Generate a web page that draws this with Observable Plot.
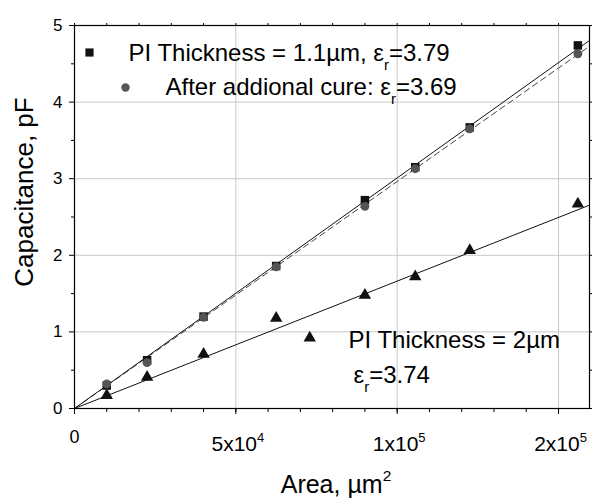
<!DOCTYPE html>
<html><head><meta charset="utf-8">
<script src="https://cdn.jsdelivr.net/npm/d3@7"></script>
<script src="https://cdn.jsdelivr.net/npm/@observablehq/plot@0.6"></script>
<style>
body{margin:0;background:#fff;}
#chart{width:592px;height:499px;overflow:hidden;}
</style></head><body><div id="chart"></div>
<script>
// Data (area in µm², capacitance in pF)
const area11 = [1.0e4, 2.25e4, 4.0e4, 6.25e4, 9.0e4, 10.56e4, 12.25e4, 15.6e4];
const cap11 = [0.30, 0.63, 1.20, 1.86, 2.72, 3.15, 3.67, 4.74];
const capCured = [0.32, 0.60, 1.19, 1.85, 2.64, 3.13, 3.65, 4.63];
const area2 = [1.0e4, 2.25e4, 4.0e4, 6.25e4, 7.29e4, 9.0e4, 10.56e4, 12.25e4, 15.6e4];
const cap2 = [0.17, 0.41, 0.71, 1.18, 0.92, 1.48, 1.72, 2.065, 2.67];

const xTickValues = [0, 5e4, 1e5, 1.5e5];
const xTickLabels = ["0", "5x10^{4}", "1x10^{5}", "2x10^{5}"];
const xMinorTicks = d3.range(0, 159000, 1e4);
const yTickValues = [0, 1, 2, 3, 4, 5];
const yMinorTicks = [0.5, 1.5, 2.5, 3.5, 4.5];
const xGrid = [5e4, 1e5, 1.5e5];
const yGrid = [1, 2, 3, 4];
const legendLabels = ["PI Thickness = 1.1µm, ε_{r}=3.79", "After addional cure: ε_{r}=3.69"];
const noteLabels = ["PI Thickness = 2µm", "ε_{r}=3.74"];
const xTitle = "Area, µm^{2}";
const yTitle = "Capacitance, pF";

const xMax = 159600;
// least-squares fits through the origin, computed from the data
function fit(xs, ys) {
  const k = d3.sum(xs, (x, i) => x * ys[i]) / d3.sum(xs, x => x * x);
  return [0, xMax].map(x => ({x, y: k * x}));
}
const pts11 = area11.map((x, i) => ({x, y: cap11[i]}));
const ptsCured = area11.map((x, i) => ({x, y: capCured[i]}));
const pts2 = area2.map((x, i) => ({x, y: cap2[i]}));
const xLab = xTickValues.map((v, i) => ({v, t: xTickLabels[i]}));

const font = "'Liberation Sans', Arial, sans-serif";
const big = {fontSize: 24};
const plot = Plot.plot({
  width: 592, height: 499,
  marginLeft: 74, marginRight: 3, marginTop: 25, marginBottom: 91,
  x: {domain: [0, xMax]},
  y: {domain: [0, 5]},
  style: {fontFamily: font, fontSize: "16px", background: "white", color: "black"},
  marks: [
    Plot.ruleX(xGrid, {stroke: "#c8c8c8", strokeWidth: 1}),
    Plot.ruleY(yGrid, {stroke: "#c8c8c8", strokeWidth: 1}),
    Plot.line(fit(area2, cap2), {x: "x", y: "y", stroke: "#111", strokeWidth: 1, clip: true}),
    Plot.line(fit(area11, capCured), {x: "x", y: "y", stroke: "#444", strokeWidth: 1, strokeDasharray: "6,4", clip: true}),
    Plot.line(fit(area11, cap11), {x: "x", y: "y", stroke: "#111", strokeWidth: 1, clip: true}),
    Plot.dot(pts2, {x: "x", y: "y", symbol: "triangle", r: 4.6, fill: "#111", stroke: "none"}),
    Plot.dot(pts11, {x: "x", y: "y", symbol: "square", r: 4.8, fill: "#111", stroke: "none"}),
    Plot.dot(ptsCured, {x: "x", y: "y", symbol: "circle", r: 4.4, fill: "#555", stroke: "none"}),
    Plot.frame({stroke: "black", strokeWidth: 1.2}),
    Plot.axisX(xTickValues, {tickSize: 6, fill: "none", label: null}),
    Plot.axisX(xMinorTicks, {tickSize: 4, fill: "none", label: null}),
    Plot.axisX(xMinorTicks, {anchor: "top", tickSize: 3, fill: "none", label: null}),
    Plot.axisY(yTickValues, {tickSize: 5, tickPadding: 7, fontSize: 17, tickFormat: d => String(d), label: null}),
    Plot.axisY(yMinorTicks, {tickSize: 3, fill: "none", label: null}),
    Plot.axisY(yTickValues, {anchor: "right", tickSize: 3, fill: "none", label: null}),
    Plot.axisY(yMinorTicks, {anchor: "right", tickSize: 2, fill: "none", label: null}),
    Plot.text(xLab.slice(0, 1), {x: "v", y: () => 0, text: "t", dy: 29, fontSize: 18, lineAnchor: "middle"}),
    Plot.text(xLab.slice(1), {x: "v", y: () => 0, text: "t", dy: 36, dx: 2, fontSize: 21, lineAnchor: "middle"}),
    // legend
    Plot.dot([0], {frameAnchor: "top-left", dx: 15, dy: 27, symbol: "square", r: 4.6, fill: "#111"}),
    Plot.dot([0], {frameAnchor: "top-left", dx: 51, dy: 62, symbol: "circle", r: 4.2, fill: "#555"}),
    Plot.text([legendLabels[0]], {frameAnchor: "top-left", dx: 54, dy: 28, text: d => d, textAnchor: "start", lineAnchor: "middle", ...big}),
    Plot.text([legendLabels[1]], {frameAnchor: "top-left", dx: 91, dy: 62, text: d => d, textAnchor: "start", lineAnchor: "middle", ...big}),
    // annotation for 2 µm series
    Plot.text([noteLabels[0]], {frameAnchor: "bottom-left", dx: 274, dy: -68, text: d => d, textAnchor: "start", lineAnchor: "middle", ...big}),
    Plot.text([noteLabels[1]], {frameAnchor: "bottom-left", dx: 279, dy: -33, text: d => d, textAnchor: "start", lineAnchor: "middle", ...big}),
    // axis titles
    Plot.text([xTitle], {frameAnchor: "bottom", dx: 4, dy: 76, text: d => d, textAnchor: "middle", lineAnchor: "middle", fontSize: 25}),
    Plot.text([yTitle], {frameAnchor: "left", dx: -50, dy: -25, rotate: -90, text: d => d, textAnchor: "middle", lineAnchor: "middle", fontSize: 26})
  ]
});
document.getElementById("chart").appendChild(plot);

// turn ^{..} / _{..} markup into real superscript / subscript tspans
d3.select(plot).selectAll("text").each(function () {
  const el = this;
  const raw = el.textContent;
  if (!/[\^_]\{/.test(raw)) return;
  const g = el.closest("[font-size]");
  const fs = (g && parseFloat(g.getAttribute("font-size"))) || parseFloat(getComputedStyle(el).fontSize) || 16;
  el.setAttribute("font-size", fs);
  while (el.firstChild) el.removeChild(el.firstChild);
  const re = /(\^|_)\{([^}]*)\}/g;
  let last = 0, m, shift = 0;
  const add = (txt, dy, size) => {
    const t = document.createElementNS("http://www.w3.org/2000/svg", "tspan");
    if (dy) t.setAttribute("dy", dy);
    t.setAttribute("font-size", size || fs);
    t.textContent = txt;
    el.appendChild(t);
  };
  while ((m = re.exec(raw))) {
    if (m.index > last) { add(raw.slice(last, m.index), -shift); shift = 0; }
    const s = m[1] === "^" ? -0.45 * fs : 0.36 * fs;
    add(m[2], s - shift, 0.62 * fs);
    shift = s;
    last = re.lastIndex;
  }
  if (last < raw.length) add(raw.slice(last), -shift);
});
</script></body></html>
